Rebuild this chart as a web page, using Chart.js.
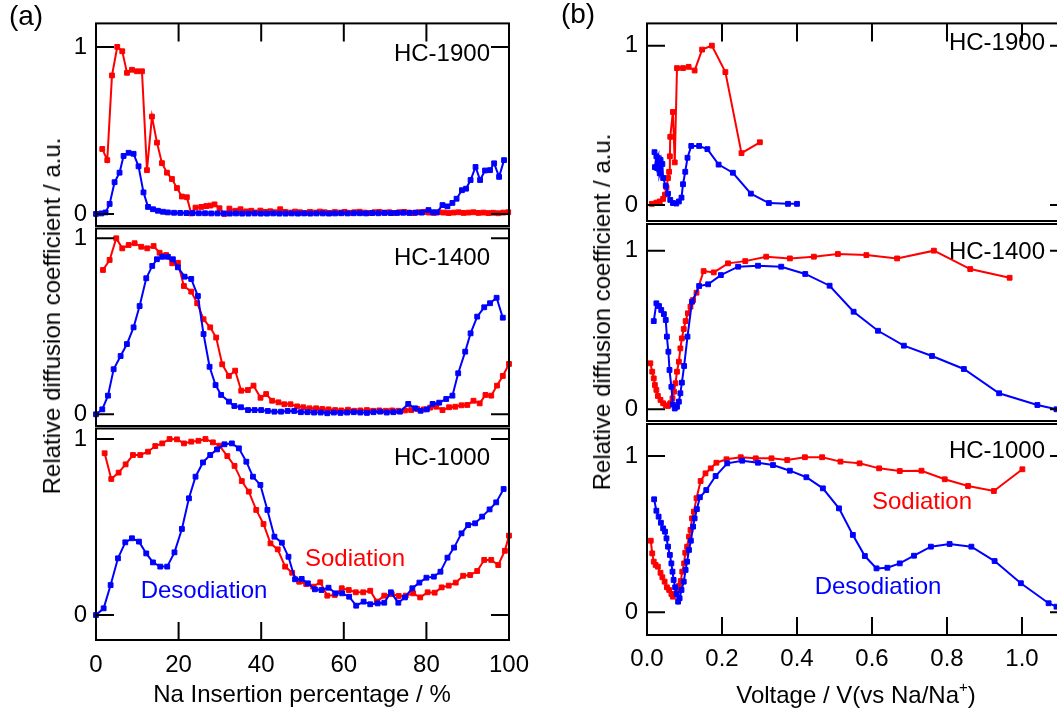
<!DOCTYPE html>
<html>
<head>
<meta charset="utf-8">
<title>Relative diffusion coefficient of hard carbons</title>
<script src="https://cdn.jsdelivr.net/npm/chart.js@4.4.1/dist/chart.umd.min.js"></script>
<style>
  html, body { margin: 0; padding: 0; background: #fff; overflow: hidden; }
  #page { position: relative; width: 1057px; height: 715px; overflow: hidden;
          font-family: "Liberation Sans", Arial, sans-serif; color: #000; }
  #page canvas { position: absolute; left: 0; top: 0; }
  .t { position: absolute; font-size: 24px; line-height: 1; white-space: nowrap;
       transform: translate(-50%, -50%); }
  .r { transform: translate(-100%, -50%); }
  .v { transform: translate(-50%, -50%) rotate(-90deg); }
  .panel { font-size: 28px; }
  .red { color: #ff0000; }
  .blue { color: #0000ff; }
  sup { font-size: 15px; vertical-align: 0; position: relative; top: -11px; }
</style>
</head>
<body>
<div id="page">
  <canvas id="a1900" width="1100" height="715"></canvas>
  <canvas id="a1400" width="1100" height="715"></canvas>
  <canvas id="a1000" width="1100" height="715"></canvas>
  <canvas id="b1900" width="1100" height="715"></canvas>
  <canvas id="b1400" width="1100" height="715"></canvas>
  <canvas id="b1000" width="1100" height="715"></canvas>

  <div class="t panel" style="left:26px;top:16px">(a)</div>
  <div class="t panel" style="left:578px;top:14px">(b)</div>

  <div class="t v" style="left:52px;top:316px">Relative diffusion coefficient / a.u.</div>
  <div class="t v" style="left:602px;top:312px">Relative diffusion coefficient / a.u.</div>

  <div class="t" style="left:302px;top:694px">Na Insertion percentage / %</div>
  <div class="t" style="left:856px;top:695px">Voltage / V(vs Na/Na<sup>+</sup>)</div>

  <div class="t r" style="left:490px;top:53px">HC-1900</div>
  <div class="t r" style="left:490px;top:257px">HC-1400</div>
  <div class="t r" style="left:490px;top:457px">HC-1000</div>
  <div class="t r" style="left:1045px;top:42px">HC-1900</div>
  <div class="t r" style="left:1045px;top:251px">HC-1400</div>
  <div class="t r" style="left:1045px;top:450px">HC-1000</div>

  <div class="t red" style="left:355px;top:558px">Sodiation</div>
  <div class="t blue" style="left:204px;top:590px">Desodiation</div>
  <div class="t red" style="left:922px;top:501px">Sodiation</div>
  <div class="t blue" style="left:878px;top:586px">Desodiation</div>
</div>

<script>
// ---- tick labels ----
const pctTicks = [0, 20, 40, 60, 80, 100];
const pctInnerTicks = [20, 40, 60, 80];
const voltTicks = [0, 0.2, 0.4, 0.6, 0.8, 1.0];
const voltInnerTicks = [0.2, 0.4, 0.6, 0.8, 1.0];
const relTicks = [0, 1];

// ---- (a) HC-1900 vs Na insertion percentage ----
const a1900SodX = [1.52, 2.73, 3.87, 5.15, 6.36, 7.5, 8.71, 9.92, 11.13, 12.34, 13.55, 14.76, 15.97, 17.18, 18.39, 19.6, 20.8, 22.0, 23.06, 24.1, 25.5, 26.7, 27.7, 28.7, 29.9, 31.1, 32.3, 33.8, 35.0, 36.4, 37.6, 38.6, 39.8, 41.0, 42.2, 43.4, 44.6, 45.8, 47.0, 48.2, 49.4, 50.6, 51.8, 53.0, 54.2, 55.4, 56.6, 57.8, 59.0, 60.2, 61.4, 62.6, 63.8, 65.0, 66.2, 67.4, 68.6, 69.8, 71.0, 72.2, 73.4, 74.6, 75.8, 77.0, 78.2, 79.4, 80.6, 81.8, 83.0, 84.2, 85.4, 86.6, 87.8, 89.0, 90.2, 91.4, 92.6, 93.8, 95.0, 96.2, 97.4, 98.6, 99.8];
const a1900SodY = [0.389, 0.322, 0.829, 1.0, 0.974, 0.845, 0.863, 0.854, 0.854, 0.262, 0.583, 0.427, 0.304, 0.247, 0.209, 0.155, 0.104, 0.1, 0.003, 0.038, 0.042, 0.047, 0.05, 0.057, 0.034, 0.0, 0.032, 0.019, 0.028, 0.015, 0.019, 0.009, 0.02, 0.012, 0.016, 0.01, 0.028, 0.012, 0.008, 0.014, 0.01, 0.006, 0.012, 0.008, 0.014, 0.01, 0.006, 0.011, 0.008, 0.012, 0.007, 0.01, 0.013, 0.008, 0.006, 0.01, 0.012, 0.008, 0.01, 0.006, 0.01, 0.012, 0.008, 0.005, 0.01, 0.012, 0.008, 0.006, 0.01, 0.008, 0.005, 0.008, 0.01, 0.006, 0.008, 0.01, 0.006, 0.008, 0.005, 0.007, 0.004, 0.008, 0.01];
const a1900DesX = [0, 1.28, 2.33, 3.3, 4.5, 5.7, 6.68, 7.9, 9.1, 10.3, 11.5, 12.6, 13.8, 15.0, 16.2, 17.4, 18.9, 20.4, 21.9, 23.4, 24.9, 26.4, 27.9, 29.4, 30.9, 32.4, 33.9, 35.4, 36.9, 38.4, 39.9, 41.4, 42.9, 44.4, 45.9, 47.4, 48.9, 50.4, 51.9, 53.4, 54.9, 56.4, 57.9, 59.4, 60.9, 62.4, 63.9, 65.4, 66.9, 68.4, 69.9, 71.4, 72.9, 74.4, 75.9, 77.4, 78.9, 80.5, 81.6, 82.5, 83.9, 85.1, 86.3, 87.3, 88.6, 89.6, 90.7, 91.9, 93.0, 94.2, 95.4, 96.4, 97.6, 98.8];
const a1900DesY = [0, 0.003, 0.009, 0.06, 0.19, 0.247, 0.347, 0.366, 0.36, 0.285, 0.129, 0.042, 0.028, 0.019, 0.013, 0.009, 0.007, 0.006, 0.005, 0.005, 0.004, 0.004, 0.003, 0.003, 0.003, 0.002, 0.003, 0.002, 0.002, 0.003, 0.002, 0.002, 0.003, 0.002, 0.002, 0.003, 0.002, 0.003, 0.002, 0.003, 0.003, 0.002, 0.003, 0.004, 0.003, 0.004, 0.004, 0.003, 0.005, 0.004, 0.006, 0.005, 0.006, 0.007, 0.006, 0.008, 0.008, 0.023, 0.01, 0.009, 0.053, 0.045, 0.066, 0.091, 0.142, 0.151, 0.203, 0.281, 0.203, 0.26, 0.262, 0.303, 0.222, 0.322];

// ---- (a) HC-1400 ----
const a1400SodX = [1.69, 3.3, 4.91, 6.36, 7.9, 9.35, 10.96, 12.41, 13.95, 15.4, 17.0, 18.46, 19.83, 21.28, 23.06, 24.5, 26.04, 27.65, 29.1, 30.56, 32.17, 33.7, 35.16, 36.77, 38.14, 39.83, 41.2, 42.65, 44.18, 45.6, 47.1, 48.7, 50.2, 51.7, 53.3, 54.8, 56.3, 57.9, 59.4, 61.0, 62.5, 64.0, 65.6, 67.1, 68.6, 70.2, 71.7, 73.2, 74.8, 76.3, 77.8, 79.4, 80.9, 82.4, 83.9, 85.5, 87.0, 88.5, 89.9, 91.4, 92.9, 94.3, 95.7, 97.1, 98.5, 100];
const a1400SodY = [0.82, 0.877, 1.0, 0.943, 0.962, 0.972, 0.952, 0.943, 0.956, 0.918, 0.905, 0.858, 0.861, 0.729, 0.697, 0.631, 0.54, 0.494, 0.436, 0.284, 0.218, 0.248, 0.134, 0.138, 0.163, 0.094, 0.115, 0.077, 0.068, 0.057, 0.057, 0.045, 0.04, 0.034, 0.034, 0.03, 0.028, 0.024, 0.022, 0.026, 0.02, 0.022, 0.024, 0.02, 0.022, 0.02, 0.022, 0.02, 0.022, 0.024, 0.03, 0.028, 0.038, 0.043, 0.024, 0.04, 0.043, 0.051, 0.053, 0.077, 0.062, 0.11, 0.106, 0.163, 0.218, 0.286];
const a1400DesX = [0, 1.52, 2.9, 4.27, 5.96, 7.49, 9.1, 10.56, 12.17, 13.62, 14.75, 16.04, 17.41, 18.62, 19.83, 21.45, 23.06, 24.67, 26.04, 27.5, 28.95, 30.3, 32.2, 33.5, 35.1, 36.8, 38.4, 40.0, 41.6, 43.2, 44.8, 46.4, 48.0, 49.6, 51.2, 52.8, 54.4, 56.0, 57.6, 59.2, 60.8, 62.4, 64.0, 65.6, 67.2, 68.8, 70.4, 72.0, 73.6, 75.6, 77.3, 78.6, 80.1, 81.5, 83.1, 84.8, 86.3, 87.7, 89.4, 90.7, 92.3, 94.0, 95.4, 97.0, 98.5];
const a1400DesY = [0, 0.028, 0.106, 0.256, 0.331, 0.399, 0.494, 0.615, 0.773, 0.843, 0.881, 0.895, 0.895, 0.881, 0.835, 0.782, 0.769, 0.672, 0.456, 0.27, 0.166, 0.11, 0.072, 0.047, 0.04, 0.024, 0.024, 0.024, 0.019, 0.015, 0.015, 0.019, 0.019, 0.012, 0.012, 0.01, 0.01, 0.006, 0.01, 0.008, 0.01, 0.012, 0.01, 0.008, 0.012, 0.015, 0.01, 0.012, 0.015, 0.059, 0.034, 0.02, 0.028, 0.059, 0.066, 0.087, 0.106, 0.233, 0.356, 0.46, 0.555, 0.608, 0.631, 0.662, 0.549];

// ---- (a) HC-1000 ----
const a1000SodX = [2.09, 3.7, 5.48, 7.17, 8.95, 10.72, 12.58, 14.35, 16.04, 17.82, 19.6, 21.3, 23.06, 24.8, 26.5, 28.3, 29.9, 31.8, 33.54, 35.3, 37.0, 38.8, 40.56, 42.25, 44.0, 45.8, 47.5, 49.2, 50.9, 52.6, 54.3, 56.0, 57.8, 59.5, 61.2, 62.9, 64.7, 66.4, 68.0, 69.8, 71.6, 73.3, 75.0, 76.8, 78.5, 80.3, 82.0, 83.7, 85.4, 87.1, 88.9, 90.6, 92.3, 94.0, 95.7, 97.4, 99.0, 100];
const a1000SodY = [0.919, 0.773, 0.809, 0.856, 0.909, 0.909, 0.928, 0.96, 0.975, 1.0, 0.998, 0.975, 0.985, 0.99, 1.0, 0.981, 0.962, 0.903, 0.847, 0.761, 0.701, 0.597, 0.517, 0.407, 0.373, 0.275, 0.24, 0.189, 0.176, 0.161, 0.186, 0.11, 0.114, 0.152, 0.142, 0.129, 0.129, 0.138, 0.076, 0.11, 0.119, 0.108, 0.11, 0.123, 0.1, 0.129, 0.127, 0.157, 0.167, 0.184, 0.223, 0.227, 0.25, 0.313, 0.313, 0.284, 0.365, 0.451];
const a1000DesX = [0, 1.85, 3.54, 5.32, 7.09, 8.7, 10.4, 12.17, 13.79, 15.56, 17.25, 19.0, 20.8, 22.5, 24.1, 25.9, 27.65, 29.3, 31.1, 32.9, 34.6, 36.4, 38.0, 39.8, 41.5, 43.2, 45.0, 46.6, 48.2, 49.8, 51.3, 53.0, 54.6, 56.3, 58.0, 59.6, 61.3, 63.0, 64.8, 66.4, 68.2, 69.8, 71.4, 73.2, 74.8, 76.6, 78.3, 80.0, 81.8, 83.4, 85.1, 86.7, 88.5, 90.1, 91.8, 93.5, 95.3, 96.9, 98.7];
const a1000DesY = [0, 0.038, 0.17, 0.322, 0.413, 0.436, 0.417, 0.35, 0.299, 0.275, 0.275, 0.356, 0.489, 0.663, 0.786, 0.867, 0.909, 0.941, 0.97, 0.975, 0.947, 0.871, 0.786, 0.739, 0.597, 0.445, 0.411, 0.331, 0.203, 0.205, 0.18, 0.146, 0.142, 0.155, 0.123, 0.123, 0.104, 0.053, 0.076, 0.061, 0.066, 0.07, 0.129, 0.07, 0.1, 0.152, 0.184, 0.212, 0.218, 0.246, 0.326, 0.383, 0.464, 0.511, 0.521, 0.559, 0.6, 0.64, 0.716];

// ---- (b) HC-1900 vs voltage ----
const b1900SodX = [0.013, 0.025, 0.034, 0.043, 0.048, 0.052, 0.056, 0.059, 0.061, 0.062, 0.069, 0.074, 0.08, 0.096, 0.111, 0.127, 0.147, 0.173, 0.209, 0.252, 0.301];
const b1900SodY = [0.008, 0.016, 0.023, 0.039, 0.066, 0.111, 0.17, 0.209, 0.306, 0.428, 0.584, 0.268, 0.859, 0.859, 0.867, 0.844, 0.975, 1.0, 0.834, 0.326, 0.394];
const b1900DesX = [0.02, 0.025, 0.021, 0.029, 0.027, 0.036, 0.034, 0.041, 0.043, 0.05, 0.056, 0.062, 0.069, 0.078, 0.085, 0.092, 0.096, 0.102, 0.108, 0.118, 0.139, 0.161, 0.191, 0.229, 0.277, 0.325, 0.376, 0.4];
const b1900DesY = [0.332, 0.306, 0.238, 0.297, 0.232, 0.283, 0.199, 0.258, 0.17, 0.121, 0.072, 0.033, 0.013, 0.01, 0.023, 0.047, 0.131, 0.209, 0.297, 0.371, 0.371, 0.351, 0.254, 0.203, 0.072, 0.013, 0.008, 0.008];

// ---- (b) HC-1400 ----
const b1400SodX = [0.009, 0.014, 0.018, 0.021, 0.025, 0.029, 0.036, 0.043, 0.05, 0.056, 0.062, 0.068, 0.072, 0.076, 0.08, 0.085, 0.089, 0.093, 0.098, 0.103, 0.109, 0.116, 0.123, 0.132, 0.151, 0.178, 0.216, 0.262, 0.318, 0.381, 0.445, 0.509, 0.585, 0.667, 0.765, 0.862, 0.967];
const b1400SodY = [0.29, 0.237, 0.195, 0.153, 0.122, 0.084, 0.059, 0.038, 0.025, 0.021, 0.038, 0.069, 0.111, 0.164, 0.237, 0.3, 0.384, 0.447, 0.506, 0.556, 0.605, 0.647, 0.689, 0.735, 0.871, 0.863, 0.92, 0.934, 0.962, 0.951, 0.962, 0.979, 0.972, 0.951, 1.0, 0.884, 0.829];
const b1400DesX = [0.018, 0.025, 0.032, 0.038, 0.045, 0.05, 0.053, 0.057, 0.06, 0.065, 0.069, 0.074, 0.08, 0.085, 0.089, 0.093, 0.099, 0.108, 0.12, 0.139, 0.163, 0.197, 0.243, 0.296, 0.358, 0.422, 0.487, 0.551, 0.616, 0.685, 0.76, 0.845, 0.939, 1.041, 1.092];
const b1400DesY = [0.556, 0.668, 0.651, 0.626, 0.6, 0.563, 0.458, 0.363, 0.248, 0.142, 0.03, 0.005, 0.016, 0.048, 0.101, 0.168, 0.273, 0.458, 0.678, 0.777, 0.788, 0.846, 0.899, 0.905, 0.899, 0.853, 0.779, 0.615, 0.495, 0.401, 0.336, 0.254, 0.101, 0.027, 0.0];

// ---- (b) HC-1000 ----
const b1000SodX = [0.01, 0.014, 0.018, 0.023, 0.029, 0.036, 0.041, 0.047, 0.053, 0.059, 0.065, 0.069, 0.074, 0.08, 0.085, 0.09, 0.094, 0.099, 0.102, 0.107, 0.112, 0.116, 0.12, 0.125, 0.132, 0.143, 0.156, 0.17, 0.185, 0.212, 0.25, 0.29, 0.332, 0.374, 0.421, 0.467, 0.516, 0.567, 0.619, 0.674, 0.732, 0.794, 0.856, 0.925, 1.001];
const b1000SodY = [0.458, 0.377, 0.324, 0.303, 0.292, 0.253, 0.224, 0.196, 0.16, 0.143, 0.117, 0.1, 0.117, 0.138, 0.168, 0.2, 0.26, 0.313, 0.381, 0.42, 0.484, 0.527, 0.601, 0.644, 0.73, 0.84, 0.889, 0.921, 0.957, 0.979, 0.992, 0.985, 0.985, 0.974, 0.992, 0.992, 0.964, 0.953, 0.921, 0.904, 0.906, 0.851, 0.808, 0.776, 0.915];
const b1000DesX = [0.019, 0.025, 0.031, 0.037, 0.043, 0.048, 0.052, 0.056, 0.061, 0.065, 0.068, 0.071, 0.075, 0.079, 0.083, 0.087, 0.092, 0.098, 0.103, 0.107, 0.112, 0.117, 0.123, 0.127, 0.133, 0.141, 0.158, 0.183, 0.214, 0.254, 0.296, 0.336, 0.381, 0.425, 0.469, 0.512, 0.549, 0.581, 0.612, 0.641, 0.674, 0.712, 0.757, 0.807, 0.865, 0.927, 0.997, 1.071, 1.092];
const b1000DesY = [0.723, 0.65, 0.612, 0.573, 0.537, 0.516, 0.473, 0.42, 0.367, 0.313, 0.26, 0.207, 0.16, 0.117, 0.068, 0.09, 0.143, 0.196, 0.271, 0.324, 0.399, 0.458, 0.548, 0.601, 0.66, 0.736, 0.782, 0.872, 0.953, 0.97, 0.957, 0.942, 0.906, 0.864, 0.793, 0.665, 0.495, 0.36, 0.281, 0.285, 0.313, 0.362, 0.42, 0.437, 0.42, 0.328, 0.186, 0.058, 0.036];

// ---- drawing ----
const RED = '#ff0000';
const BLUE = '#0000ff';
const FONT = '"Liberation Sans", Arial, sans-serif';
const CW = 1100, CH = 715;
const TICK_LEN = 18;
const Y_AXIS_W = 60;   // room for the 0 / 1 labels left of each plot
const X_AXIS_H = 60;   // room for the tick labels under the bottom plots

// Closed frame around each plot area, with inward tick marks on all sides
const framePlugin = {
  id: 'frame',
  afterDatasetsDraw(chart, args, opts) {
    const { ctx, chartArea: a, scales: { x, y } } = chart;
    ctx.save();
    ctx.strokeStyle = '#000';
    ctx.lineWidth = 2;
    ctx.strokeRect(a.left, a.top, a.right - a.left, a.bottom - a.top);
    ctx.beginPath();
    for (const v of opts.yTicks || []) {
      const p = y.getPixelForValue(v);
      ctx.moveTo(a.left, p); ctx.lineTo(a.left + TICK_LEN, p);
      ctx.moveTo(a.right - TICK_LEN, p); ctx.lineTo(a.right, p);
    }
    for (const v of opts.topTicks || []) {
      const p = x.getPixelForValue(v);
      ctx.moveTo(p, a.top); ctx.lineTo(p, a.top + TICK_LEN);
    }
    for (const v of opts.bottomTicks || []) {
      const p = x.getPixelForValue(v);
      ctx.moveTo(p, a.bottom); ctx.lineTo(p, a.bottom - TICK_LEN);
    }
    ctx.stroke();
    ctx.restore();
  }
};

function series(xs, ys, color) {
  return {
    data: xs.map((v, i) => ({ x: v, y: ys[i] })),
    borderColor: color,
    backgroundColor: color,
    borderWidth: 2,
    pointStyle: 'rect',
    pointRadius: 3.4,
    pointBorderWidth: 1,
    pointHoverRadius: 3.4,
    tension: 0,
    clip: false
  };
}

function plot(id, box, xr, yr, sets, ax) {
  const xH = ax.showLabels ? X_AXIS_H : 0;
  new Chart(document.getElementById(id), {
    type: 'line',
    data: { datasets: sets },
    options: {
      responsive: false,
      animation: false,
      devicePixelRatio: 1,
      events: [],
      layout: {
        autoPadding: false,
        padding: { left: box.l - Y_AXIS_W, top: box.t, right: CW - box.r, bottom: CH - box.b - xH }
      },
      plugins: {
        legend: { display: false },
        tooltip: { enabled: false },
        frame: { yTicks: relTicks, topTicks: ax.top, bottomTicks: ax.bottom }
      },
      scales: {
        x: {
          type: 'linear', min: xr[0], max: xr[1],
          grid: { display: false, drawTicks: false }, border: { display: false },
          afterFit: s => { s.height = xH; },
          afterBuildTicks: s => { s.ticks = ax.labels.map(v => ({ value: v })); },
          ticks: {
            display: ax.showLabels, autoSkip: false, maxRotation: 0, minRotation: 0,
            padding: ax.pad, color: '#000', font: { family: FONT, size: 24 },
            callback: ax.fmt
          }
        },
        y: {
          type: 'linear', min: yr[0], max: yr[1],
          grid: { display: false, drawTicks: false }, border: { display: false },
          afterFit: s => { s.width = Y_AXIS_W; },
          afterBuildTicks: s => { s.ticks = relTicks.map(v => ({ value: v })); },
          ticks: {
            autoSkip: false, padding: 9, color: '#000', font: { family: FONT, size: 24 },
            callback: v => String(v)
          }
        }
      }
    },
    plugins: [framePlugin]
  });
}

const pctFmt = v => String(v);
const voltFmt = v => v.toFixed(1);
const pctRange = [0, 100];
const voltRange = [0, 1.1227];

plot('a1900', { l: 96, r: 509, t: 13, b: 226 }, pctRange, [-0.0723, 1.1407],
  [series(a1900DesX, a1900DesY, BLUE), series(a1900SodX, a1900SodY, RED)],
  { top: pctInnerTicks, bottom: [], labels: pctTicks, showLabels: false, fmt: pctFmt, pad: 0 });
plot('a1400', { l: 96, r: 509, t: 228.5, b: 426 }, pctRange, [-0.0665, 1.0557],
  [series(a1400DesX, a1400DesY, BLUE), series(a1400SodX, a1400SodY, RED)],
  { top: [], bottom: [], labels: pctTicks, showLabels: false, fmt: pctFmt, pad: 0 });
plot('a1000', { l: 96, r: 509, t: 428.5, b: 640 }, pctRange, [-0.142, 1.0597],
  [series(a1000DesX, a1000DesY, BLUE), series(a1000SodX, a1000SodY, RED)],
  { top: [], bottom: pctInnerTicks, labels: pctTicks, showLabels: true, fmt: pctFmt, pad: 11 });

plot('b1900', { l: 647, r: 1068, t: 9.5, b: 221 }, voltRange, [-0.0996, 1.1394],
  [series(b1900DesX, b1900DesY, BLUE), series(b1900SodX, b1900SodY, RED)],
  { top: voltInnerTicks, bottom: [], labels: voltTicks, showLabels: false, fmt: voltFmt, pad: 0 });
plot('b1400', { l: 647, r: 1068, t: 224, b: 421 }, voltRange, [-0.0738, 1.168],
  [series(b1400DesX, b1400DesY, BLUE), series(b1400SodX, b1400SodY, RED)],
  { top: [], bottom: [], labels: voltTicks, showLabels: false, fmt: voltFmt, pad: 0 });
plot('b1000', { l: 647, r: 1068, t: 424, b: 635 }, voltRange, [-0.1452, 1.2047],
  [series(b1000DesX, b1000DesY, BLUE), series(b1000SodX, b1000SodY, RED)],
  { top: [], bottom: voltInnerTicks, labels: voltTicks, showLabels: true, fmt: voltFmt, pad: 10 });
</script>
</body>
</html>
